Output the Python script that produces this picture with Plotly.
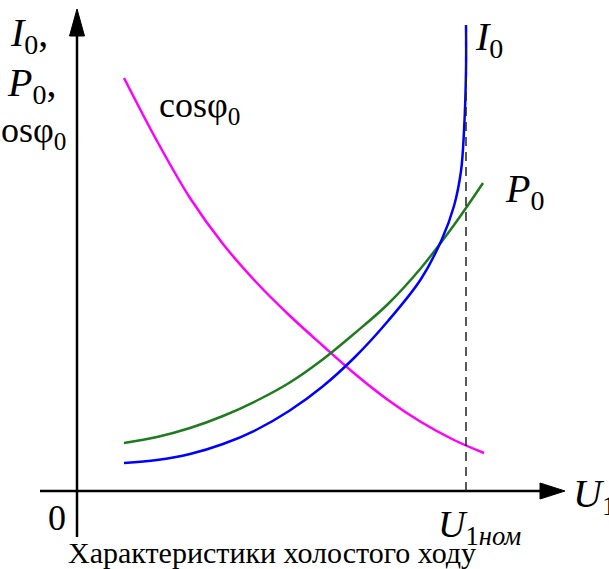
import plotly.graph_objects as go

# Voltage U1 (arbitrary units, U1nom = 389)
U_NOM = 389
u_I0 = [47, 80, 113, 146, 179, 212, 245, 278, 311, 344, 365, 377, 384, 387, 389, 389]
I0 = [28, 31, 37, 47, 61, 80, 104, 134, 170, 212, 252, 285, 320, 360, 420, 466]

u_P0 = [47, 80, 113, 146, 179, 212, 245, 278, 311, 344, 377, 406]
P0 = [48, 54, 63, 75, 90, 108, 131, 158, 187, 223, 266, 308]

u_cos = [47, 80, 113, 146, 179, 212, 245, 278, 311, 344, 377, 407]
cos_phi0 = [413, 350, 293, 247, 209, 176, 146, 117, 91, 69, 51, 38]

FONT = "Liberation Serif"

fig = go.Figure()
fig.add_trace(go.Scatter(x=u_cos, y=cos_phi0, mode="lines",
                         line=dict(color="#FF00FF", width=2.5, shape="spline")))
fig.add_trace(go.Scatter(x=u_P0, y=P0, mode="lines",
                         line=dict(color="#1E7B1E", width=2.5, shape="spline")))
fig.add_trace(go.Scatter(x=u_I0, y=I0, mode="lines",
                         line=dict(color="#0000FF", width=2.5, shape="spline")))

# axes lines
fig.add_shape(type="line", x0=0, x1=0, y0=-46, y1=458, line=dict(color="black", width=2.5))
fig.add_shape(type="line", x0=-37, x1=466, y0=0, y1=0, line=dict(color="black", width=2.5))
fig.add_shape(type="line", x0=U_NOM, x1=U_NOM, y0=0, y1=466,
              line=dict(color="#222", width=1.5, dash="9px,6px"))
# arrow heads
fig.add_shape(type="path", path="M -7.5 455 L 0 482 L 7.5 455 Z",
              fillcolor="black", line=dict(color="black", width=1))
fig.add_shape(type="path", path="M 463 -8 L 488 0 L 463 8 Z",
              fillcolor="black", line=dict(color="black", width=1))


def txt(x, y, s, size, xanchor="left", yanchor="middle"):
    fig.add_annotation(x=x, y=y, xref="x", yref="y", text=s, showarrow=False,
                       xanchor=xanchor, yanchor=yanchor,
                       font=dict(family=FONT, size=size, color="black"))


txt(-69, 456, "<i>I</i><sub>0</sub>,", 40)
txt(-72, 406, "<i>P</i><sub>0</sub>,", 40)
txt(-9, 359, "cosφ<sub>0</sub>", 36, xanchor="right")
txt(80, 384, "cosφ<sub>0</sub>", 36)
txt(396, 452, "<i>I</i><sub>0</sub>", 40)
txt(426, 300, "<i>P</i><sub>0</sub>", 40)
txt(494, -5, "<i>U</i><sub>1</sub>", 40)
txt(-20, -27, "0", 36, xanchor="center")
txt(359, -36, "<i>U</i><sub>1<i>ном</i></sub>", 38)
txt(195, -61, "Характеристики холостого ходу", 30, xanchor="center")

fig.update_layout(
    width=609, height=569,
    margin=dict(l=0, r=0, t=0, b=0),
    paper_bgcolor="white", plot_bgcolor="white",
    showlegend=False,
    xaxis=dict(range=[-77, 532], visible=False, fixedrange=True),
    yaxis=dict(range=[-78, 491], visible=False, fixedrange=True),
)

fig.write_html("out.html", config={"displayModeBar": False},
               post_script="document.body.style.margin='0';")
